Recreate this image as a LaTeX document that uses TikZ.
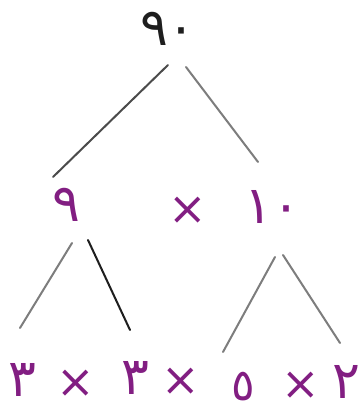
\documentclass[tikz,border=0pt]{standalone}
\usepackage{fontspec}
\newfontfamily\arabicfont[Script=Arabic]{DejaVu Sans}
\definecolor{ink}{RGB}{130,30,130}
\definecolor{dark}{RGB}{30,30,30}
\definecolor{pen}{RGB}{125,125,125}
\definecolor{pendark}{RGB}{75,75,75}
\tikzset{
  num/.style={inner sep=0pt, font=\arabicfont\fontsize{52}{56}\selectfont},
  topnum/.style={num, text=dark},
  pnum/.style={num, text=ink},
  small/.style={inner sep=0pt, text=ink, font=\arabicfont\fontsize{44}{48}\selectfont},
  times/.style={inner sep=0pt, text=ink, font=\arabicfont\fontsize{46}{50}\selectfont},
  branch/.style={line width=2pt, pen, line cap=round},
  midbranch/.style={line width=2pt, pendark, line cap=round},
  darkbranch/.style={line width=2pt, dark, line cap=round}
}
\begin{document}
\begin{tikzpicture}[x=1pt,y=-1pt]
\useasboundingbox[fill=white] (0,0) rectangle (361,411);
% numbers
\node[topnum] (top) at (168,29) {٩٠};
\node[pnum] (n9) at (66,205) {٩};
\node[times] (t0) at (188,211) {×};
\node[pnum] (n10) at (272,207) {١٠};
\node[pnum] (b3a) at (22,380) {٣};
\node[times] (t1) at (76,384) {×};
\node[pnum] (b3b) at (135,378) {٣};
\node[times] (t2) at (181,382) {×};
\node[small] (b5) at (243,387) {٥};
\node[times] (t3) at (301,386) {×};
\node[pnum] (b2) at (346,382) {٢};
% branch ends
\coordinate (a1) at (168,65); \coordinate (a2) at (53,177);
\coordinate (b1) at (186,67); \coordinate (b2e) at (258,162);
\coordinate (c1) at (72,243); \coordinate (c2) at (20,328);
\coordinate (d1) at (88,240); \coordinate (d2) at (130,330);
\coordinate (e1) at (275,257); \coordinate (e2) at (223,352);
\coordinate (f1) at (283,255); \coordinate (f2) at (340,343);
\draw[midbranch] (a1) -- (a2);
\draw[branch] (b1) -- (b2e);
\draw[branch] (c1) -- (c2);
\draw[darkbranch] (d1) -- (d2);
\draw[branch] (e1) -- (e2);
\draw[branch] (f1) -- (f2);
\end{tikzpicture}
\end{document}
